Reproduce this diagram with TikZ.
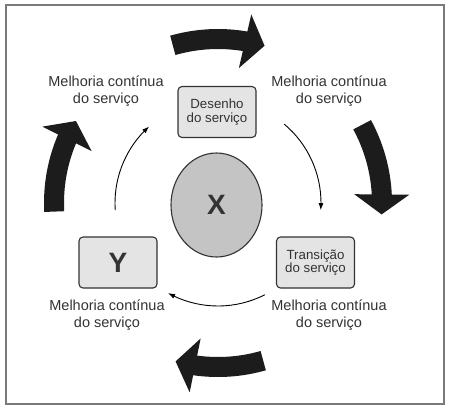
\documentclass[tikz,border=0pt]{standalone}
\usepackage{fontspec}
\setmainfont{Liberation Sans}
\usetikzlibrary{arrows.meta, bending, shapes.geometric}
\definecolor{inkgray}{HTML}{333333}
\definecolor{boxgray}{HTML}{E4E4E4}
\definecolor{coregray}{HTML}{C4C4C4}
\definecolor{framegray}{HTML}{7A7A7A}
\definecolor{arrowblack}{HTML}{1C1C1C}

\begin{document}
\begin{tikzpicture}[x=1pt, y=-1pt,
  stage/.style={draw=inkgray, fill=boxgray, line width=1.1pt, rounded corners=4pt,
    minimum width=78pt, minimum height=51pt, inner sep=2pt, align=center,
    text=inkgray, font=\fontsize{13.3}{13.5}\selectfont},
  core/.style={ellipse, draw=inkgray, fill=coregray, line width=1.1pt,
    minimum width=91pt, minimum height=104pt, text=inkgray,
    font=\fontsize{28}{28}\selectfont\bfseries},
  cilabel/.style={align=center, text=inkgray, font=\fontsize{14.5}{17}\selectfont},
  flow/.style={draw=black, line width=0.9pt, -{Latex[length=7pt, width=5pt]}},
  bigturn/.style={draw=arrowblack, line width=20pt, -{Triangle[length=20pt, width=54pt]}}]

% Page and frame
\useasboundingbox (0,0) rectangle (449,410);
\fill[white] (0,0) rectangle (449,410);
\draw[framegray, line width=1.5pt] (6,5) rectangle (444,404);

% Centre of both rings
\coordinate (hub) at (218,203);

% =========== Stages ===========
\node[core] (xcore) at (216.5,205) {X};
\node[stage] (desenho) at (217,112) {Desenho\\do serviço};
\node[stage] (transicao) at (315.5,262.5) {Transição\\do serviço};
\node[stage, font=\fontsize{28}{28}\selectfont\bfseries] (ybox) at (118,262.5) {Y};

% Labels
\node[cilabel] (lbltl) at (106,91.5) {Melhoria contínua\\do serviço};
\node[cilabel] (lbltr) at (329,91.5) {Melhoria contínua\\do serviço};
\node[cilabel] (lblbl) at (107,315) {Melhoria contínua\\do serviço};
\node[cilabel] (lblbr) at (329,315) {Melhoria contínua\\do serviço};

% =========== Inner ring: thin arrows ===========
\draw[flow] ([shift={(-184:103)}]hub) arc[start angle=-184, end angle=-132, radius=103];
\draw[flow] ([shift={(-50:103)}]hub) arc[start angle=-50, end angle=4, radius=103];
\draw[flow] ([shift={(63:103)}]hub) arc[start angle=63, end angle=119, radius=103];

% =========== Outer ring: thick arrows ===========
\draw[bigturn] ([shift={(-106:164)}]hub) arc[start angle=-106, end angle=-73.5, radius=164];
\draw[bigturn] ([shift={(-28.5:164)}]hub) arc[start angle=-28.5, end angle=4, radius=164];
\draw[bigturn] ([shift={(74:164)}]hub) arc[start angle=74, end angle=105, radius=164];
\draw[bigturn] ([shift={(-183:164)}]hub) arc[start angle=-183, end angle=-150, radius=164];

\end{tikzpicture}
\end{document}
